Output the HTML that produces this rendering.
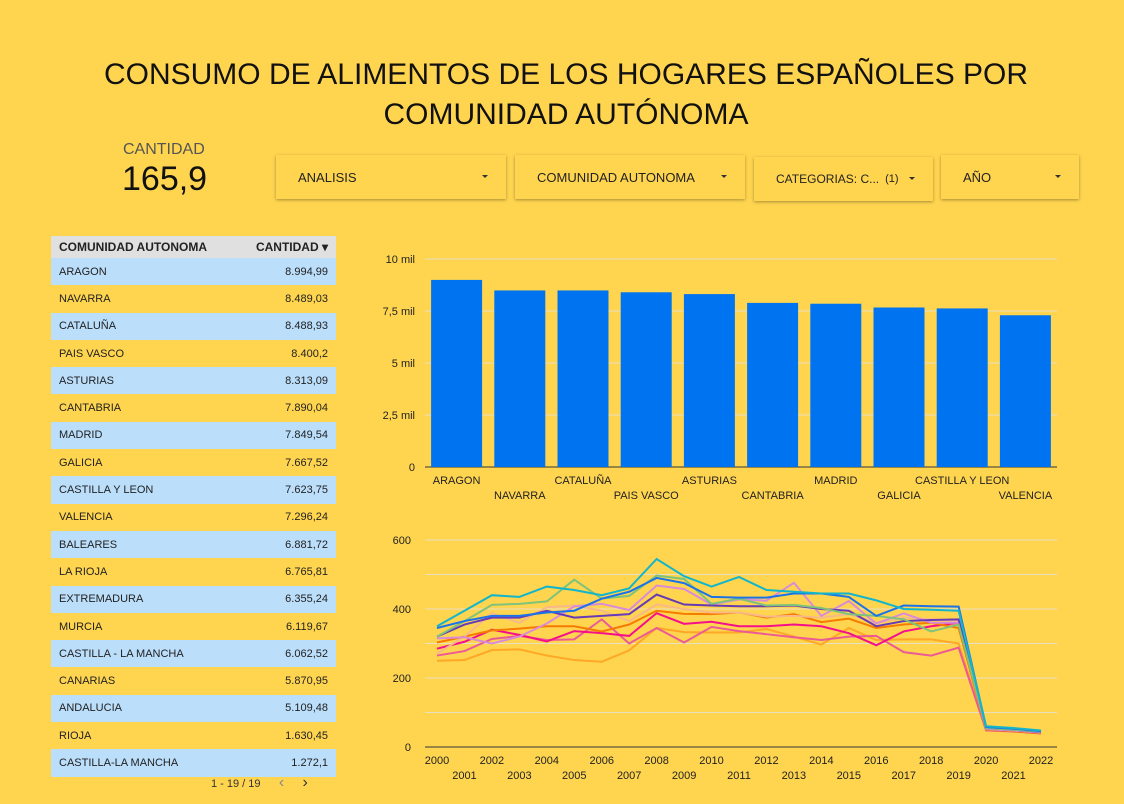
<!DOCTYPE html>
<html><head><meta charset="utf-8">
<style>
body{margin:0;width:1124px;height:804px;background:#FFD54F;font-family:"Liberation Sans",sans-serif;overflow:hidden;position:relative}
.abs{position:absolute}
.title{left:0;width:1132px;top:55px;text-align:center;font-size:30px;line-height:40px;color:#111}
.filter{background:#FFD54F;box-shadow:0 1px 3px rgba(0,0,0,.35);height:44px;font-size:13px;color:#222;display:flex;align-items:center;padding-left:22px;box-sizing:border-box}
.filter .arr{position:absolute;right:18px;top:20px;border-left:3px solid transparent;border-right:3px solid transparent;border-top:3px solid #333}
table{border-collapse:collapse;font-size:11px;color:#222}
td{height:27.3px;padding:0 8px;box-sizing:border-box}
</style></head><body>
<div class="abs title">CONSUMO DE ALIMENTOS DE LOS HOGARES ESPAÑOLES POR<br>COMUNIDAD AUTÓNOMA</div>
<div class="abs" style="left:123px;top:141px;font-size:16px;color:#555">CANTIDAD</div>
<div class="abs" style="left:122px;top:160px;font-size:34px;color:#111">165,9</div>
<div class="abs filter" style="left:276px;top:155px;width:230px">ANALISIS<span class="arr"></span></div>
<div class="abs filter" style="left:515px;top:155px;width:230px">COMUNIDAD AUTONOMA<span class="arr"></span></div>
<div class="abs filter" style="left:754px;top:157px;width:179px;font-size:12px">CATEGORIAS: C... <span style="margin-left:6px;font-size:11px">(1)</span><span class="arr"></span></div>
<div class="abs filter" style="left:941px;top:155px;width:138px">AÑO<span class="arr"></span></div>

<table class="abs" style="left:51px;top:236px;width:285px" id="tbl">
<tr style="background:#e0e0e0;font-weight:bold;font-size:12px"><td style="height:22px">COMUNIDAD AUTONOMA</td><td style="text-align:right;height:22px">CANTIDAD ▾</td></tr>
</table>
<div class="abs" style="left:211px;top:774px;font-size:11px;color:#333">1 - 19 / 19 &nbsp;&nbsp;&nbsp;&nbsp; <span style="color:#888;font-size:16px">‹</span> &nbsp;&nbsp;&nbsp;&nbsp; <span style="font-size:16px">›</span></div>

<svg class="abs" style="left:0;top:0" width="1124" height="804" id="svg"></svg>
<script>
const regions=["ARAGON","NAVARRA","CATALUÑA","PAIS VASCO","ASTURIAS","CANTABRIA","MADRID","GALICIA","CASTILLA Y LEON","VALENCIA","BALEARES","LA RIOJA","EXTREMADURA","MURCIA","CASTILLA - LA MANCHA","CANARIAS","ANDALUCIA","RIOJA","CASTILLA-LA MANCHA"];
const tableValues=["8.994,99","8.489,03","8.488,93","8.400,2","8.313,09","7.890,04","7.849,54","7.667,52","7.623,75","7.296,24","6.881,72","6.765,81","6.355,24","6.119,67","6.062,52","5.870,95","5.109,48","1.630,45","1.272,1"];
const barCats=["ARAGON","NAVARRA","CATALUÑA","PAIS VASCO","ASTURIAS","CANTABRIA","MADRID","GALICIA","CASTILLA Y LEON","VALENCIA"];
const barVals=[8995,8489,8489,8400,8313,7890,7850,7668,7624,7296];
const barTicks=[0,2500,5000,7500,10000];
const barTickLabels=["0","2,5 mil","5 mil","7,5 mil","10 mil"];
const years=[2000,2001,2002,2003,2004,2005,2006,2007,2008,2009,2010,2011,2012,2013,2014,2015,2016,2017,2018,2019,2020,2021,2022];
const lineTicks=[0,100,200,300,400,500,600];
const sCyan=[350,395,440,435,465,455,440,460,545,495,465,493,455,450,445,445,425,400,398,395,60,55,48];
const sBlue=[345,365,380,380,390,395,430,450,490,475,435,433,433,445,445,435,380,410,408,407,58,53,46];
const sGreen=[320,365,412,415,422,485,430,438,497,487,415,430,410,412,403,385,380,370,335,355,55,50,45];
const sPurple=[320,355,375,375,395,375,380,385,442,413,410,408,408,410,400,395,350,365,368,370,55,50,44];
const sLavender=[315,318,300,320,358,408,415,397,468,458,413,428,424,476,380,423,358,387,360,360,52,48,42];
const sPeach=[270,320,388,360,405,410,395,365,413,400,390,390,378,380,375,385,360,375,370,365,52,48,42];
const sOrange=[303,320,338,343,350,350,335,355,395,386,385,390,375,385,362,372,345,355,360,345,50,46,40];
const sMagenta=[285,305,340,325,306,336,330,322,388,357,363,350,350,355,350,330,295,335,350,360,50,46,40];
const sPink=[265,278,313,322,310,312,370,300,345,303,348,336,327,318,310,320,322,275,265,288,48,45,39];
const sAmber=[250,252,281,283,265,252,247,280,345,333,332,332,342,320,297,345,310,312,312,300,50,46,40];
const series=[[sAmber,"#ffa726"],[sPink,"#ec5a95"],[sMagenta,"#f50f8a"],[sOrange,"#f57c00"],[sPeach,"#f9b88a"],[sLavender,"#d98bd8"],[sPurple,"#673ab7"],[sGreen,"#7fc37a"],[sBlue,"#1a73e8"],[sCyan,"#12b5cb"]];

const tbl=document.getElementById('tbl');
regions.forEach((r,i)=>{
 const tr=document.createElement('tr');
 
 
 tr.style.background=i%2==0?'#bbdefb':'transparent';
 tr.innerHTML='<td>'+r+'</td><td style="text-align:right">'+tableValues[i]+'</td>';
 tbl.appendChild(tr);
});

const svg=document.getElementById('svg');
const NS='http://www.w3.org/2000/svg';
function mk(t,a,txt){const e=document.createElementNS(NS,t);for(const k in a)e.setAttribute(k,a[k]);if(txt!=null)e.textContent=txt;svg.appendChild(e);return e;}
const bx0=425,bx1=1057,by0=467,by1=259;
const byS=v=>by0-(v/10000)*(by0-by1);
const bstep=(bx1-bx0)/barCats.length;
barTicks.forEach((t,i)=>{
 const g=mk('line',{x1:bx0,x2:bx1,y1:byS(t),y2:byS(t),stroke:i==0?'#333':'#e8e0c0','stroke-width':1});
 
 
 const l=mk('text',{x:415,y:byS(t)+4,'text-anchor':'end','font-size':11,fill:'#222'},barTickLabels[i]);
 
 
});
barVals.forEach((v,i)=>{
 const cx=bx0+bstep*(i+0.5);
 const r=mk('rect',{x:cx-25.5,y:byS(v),width:51,height:by0-byS(v),fill:'#0074f0'});
 
 
 const l=mk('text',{x:cx,y:i%2==0?484:499,'text-anchor':'middle','font-size':11,fill:'#222'},barCats[i]);
 
 
});
const lx0=437,lx1=1041,ly0=747,ly1=540;
const lxS=i=>lx0+i*(lx1-lx0)/(years.length-1);
const lyS=v=>ly0-(v/600)*(ly0-ly1);
lineTicks.forEach((t,i)=>{
 const g=mk('line',{x1:425,x2:1057,y1:lyS(t),y2:lyS(t),stroke:i==0?'#333':'#e8e0c0','stroke-width':1});
 
 
 if(t%200==0){
 const l=mk('text',{x:411,y:lyS(t)+4,'text-anchor':'end','font-size':11,fill:'#222'},String(t));
 
 }
});
years.forEach((y,i)=>{
 const l=mk('text',{x:lxS(i),y:i%2==0?764:779,'text-anchor':'middle','font-size':11,fill:'#222'},String(y));
 
 
});
series.forEach(([vals,col])=>{
 const p=mk('polyline',{points:vals.map((v,i)=>lxS(i)+','+lyS(v)).join(' '),fill:'none',stroke:col,'stroke-width':2});
 
 
});
</script>
</body></html>
